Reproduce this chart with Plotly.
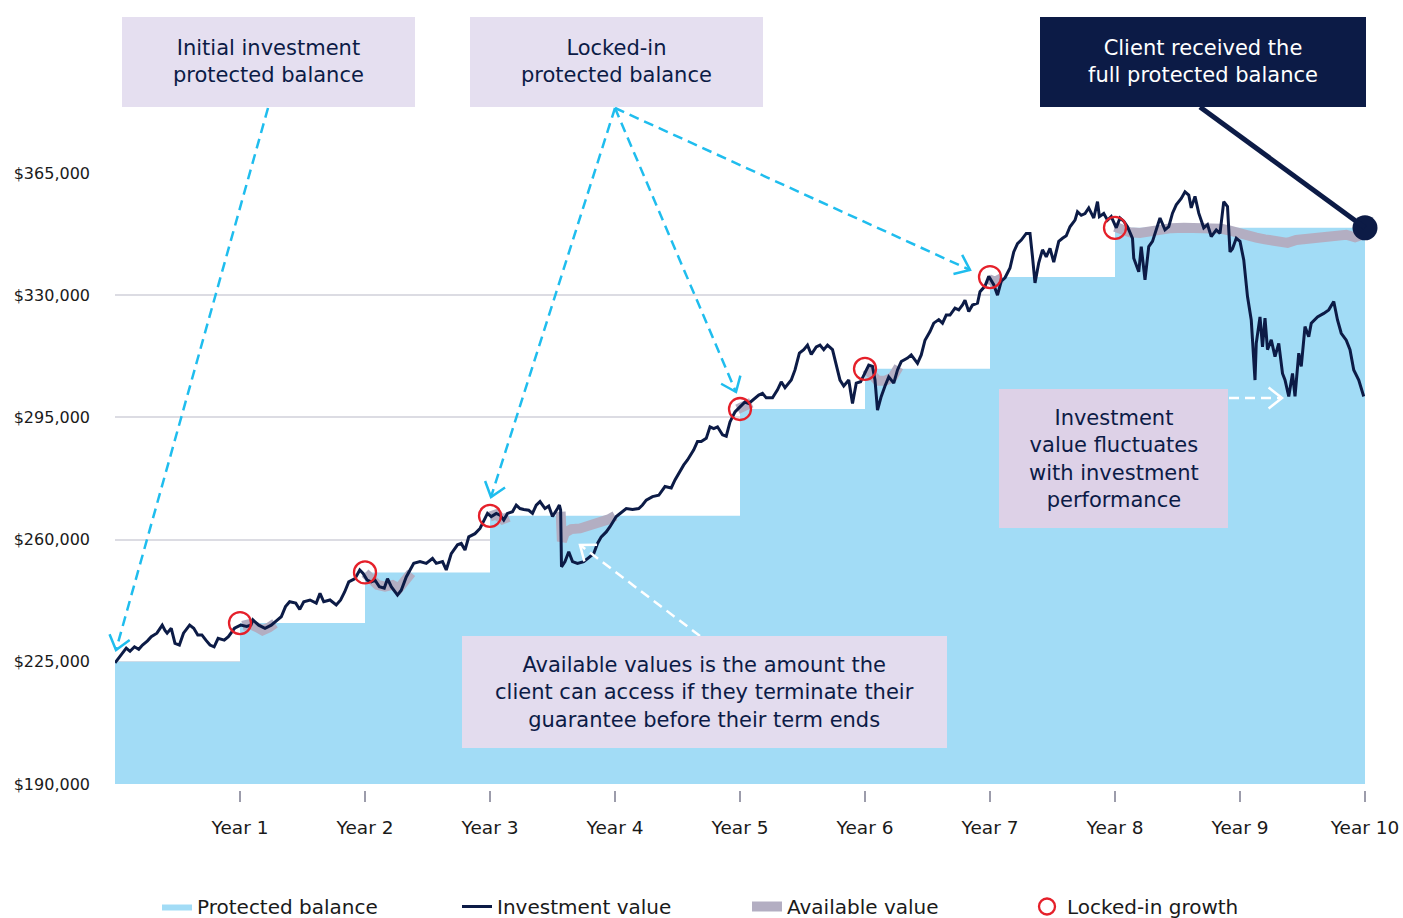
import math
import plotly.graph_objects as go

# ---------------- data (values in $) ----------------
protected_years = [0, 1, 2, 3, 4, 5, 6, 7, 8, 9, 10]
protected_values = [225000, 236100, 250600, 266800, 266800, 297400, 308900, 335200, 349300, 349300, 349300]

locked_years = [1, 2, 3, 5, 6, 7, 8]
locked_values = [236100, 250600, 266800, 297400, 308900, 335200, 349300]

invest_years = [
    0.00, 0.04, 0.09, 0.12, 0.156, 0.19, 0.22, 0.26, 0.29, 0.335, 0.378, 0.40, 0.417, 0.45, 0.48, 0.515,
    0.548, 0.597, 0.63, 0.662, 0.695, 0.727, 0.76, 0.793, 0.825, 0.874, 0.907, 0.956, 1.005, 1.054, 1.087,
    1.103, 1.15, 1.20, 1.25, 1.30, 1.33, 1.364, 1.397, 1.446, 1.478, 1.51, 1.56, 1.61, 1.64, 1.67, 1.72,
    1.77, 1.805, 1.837, 1.87, 1.92, 1.958, 1.985, 2.017, 2.05, 2.08, 2.115, 2.154, 2.18, 2.21, 2.26, 2.29,
    2.33, 2.36, 2.39, 2.44, 2.49, 2.54, 2.57, 2.62, 2.65, 2.69, 2.74, 2.77, 2.80, 2.83, 2.88, 2.92, 2.95,
    2.98, 3.01, 3.05, 3.08, 3.11, 3.14, 3.18, 3.21, 3.24, 3.27, 3.31, 3.34, 3.37, 3.40, 3.44, 3.47, 3.50,
    3.54, 3.555, 3.565, 3.572, 3.60, 3.63, 3.66, 3.70, 3.75, 3.80, 3.83, 3.86, 3.89, 3.93, 3.96, 4.01,
    4.04, 4.09, 4.14, 4.19, 4.22, 4.25, 4.30, 4.35, 4.40, 4.45, 4.48, 4.51, 4.55, 4.58, 4.63, 4.66, 4.69,
    4.73, 4.76, 4.79, 4.82, 4.86, 4.89, 4.92, 4.96, 5.00, 5.04, 5.07, 5.10, 5.15, 5.18, 5.21, 5.26, 5.30,
    5.33, 5.36, 5.41, 5.44, 5.475, 5.51, 5.54, 5.57, 5.61, 5.64, 5.67, 5.70, 5.74, 5.77, 5.80, 5.83, 5.87,
    5.90, 5.93, 5.965, 6.00, 6.03, 6.06, 6.08, 6.10, 6.13, 6.16, 6.19, 6.23, 6.26, 6.29, 6.34, 6.37, 6.42,
    6.45, 6.48, 6.52, 6.55, 6.59, 6.62, 6.65, 6.68, 6.72, 6.75, 6.78, 6.80, 6.83, 6.86, 6.90, 6.92, 6.96,
    6.99, 7.03, 7.06, 7.09, 7.12, 7.16, 7.19, 7.22, 7.25, 7.29, 7.32, 7.34, 7.36, 7.39, 7.42, 7.45, 7.48,
    7.51, 7.55, 7.58, 7.61, 7.64, 7.68, 7.70, 7.73, 7.76, 7.79, 7.83, 7.86, 7.875, 7.91, 7.94, 7.97, 8.01,
    8.04, 8.07, 8.10, 8.14, 8.15, 8.19, 8.21, 8.24, 8.27, 8.30, 8.33, 8.36, 8.40, 8.43, 8.46, 8.49, 8.53,
    8.56, 8.59, 8.61, 8.64, 8.67, 8.71, 8.74, 8.77, 8.81, 8.84, 8.87, 8.90, 8.92, 8.94, 8.97, 9.00, 9.03,
    9.06, 9.09, 9.12, 9.13, 9.16, 9.18, 9.20, 9.22, 9.25, 9.28, 9.31, 9.34, 9.36, 9.39, 9.42, 9.44, 9.47,
    9.49, 9.52, 9.55, 9.57, 9.62, 9.67, 9.71, 9.75, 9.78, 9.81, 9.85, 9.88, 9.91, 9.95, 9.99,
]
invest_values_k = [
    224.7, 226.5, 228.9, 228.0, 229.3, 228.6, 229.8, 231.0, 232.2, 233.2, 235.5, 234.0, 233.2, 234.6, 230.3, 229.8,
    233.2, 235.5, 234.6, 232.7, 232.7, 231.2, 229.8, 229.3, 231.7, 231.2, 232.2, 234.6, 235.5, 235.1, 235.5,
    237.0, 235.5, 234.6, 235.5, 237.0, 237.9, 240.8, 242.2, 241.8, 240.0, 242.2, 242.7, 241.8, 244.6, 242.2, 242.7,
    241.3, 242.7, 245.0, 247.9, 248.8, 251.3, 250.3, 248.4, 247.9, 248.4, 246.5, 246.1, 248.8, 246.5, 244.1, 245.5,
    249.3, 251.3, 253.2, 253.7, 253.2, 254.6, 253.2, 253.7, 251.3, 256.0, 258.5, 258.9, 257.0, 260.8, 261.7, 263.2, 265.6,
    267.5, 266.6, 267.5, 267.0, 265.6, 267.5, 268.0, 269.9, 268.9, 268.6, 268.4, 267.5, 269.9, 270.9, 268.9, 269.6, 266.6,
    268.9, 269.9, 268.5, 252.2, 253.7, 256.5, 253.7, 253.2, 253.7, 255.1, 256.0, 258.9, 260.8, 262.2, 263.7, 266.6,
    267.5, 268.9, 268.6, 268.9, 269.9, 271.3, 272.3, 272.7, 275.2, 274.8, 277.1, 279.0, 281.4, 282.8, 285.7, 288.1, 288.1,
    289.0, 292.3, 291.8, 292.3, 290.0, 289.6, 293.7, 296.6, 298.0, 299.4, 299.0, 300.0, 301.4, 301.9, 300.6, 300.6, 302.9,
    305.2, 303.5, 305.7, 308.6, 313.4, 314.4, 315.7, 313.0, 315.2, 315.7, 314.4, 315.7, 314.4, 309.6, 305.7, 304.0, 305.7,
    299.0, 304.8, 305.2, 307.6, 310.0, 309.6, 305.7, 297.1, 301.0, 304.0, 306.6, 304.8, 308.6, 311.0, 312.0, 312.9, 310.5,
    312.9, 317.1, 319.6, 322.0, 323.0, 322.0, 324.3, 324.3, 326.3, 325.8, 327.2, 328.6, 325.3, 327.2, 327.7, 331.0, 332.6,
    335.4, 333.0, 330.0, 334.0, 335.0, 337.8, 342.4, 344.8, 345.8, 347.7, 347.7, 341.0, 333.5, 339.3, 343.0, 341.0, 343.4,
    339.5, 345.4, 346.3, 347.0, 349.6, 351.5, 353.9, 352.9, 353.4, 355.0, 352.1, 356.8, 352.5, 353.4, 351.5, 352.5, 349.3,
    352.1, 351.2, 349.6, 346.3, 340.6, 336.7, 343.9, 334.4, 343.9, 345.4, 348.7, 352.1, 348.7, 349.6, 353.5, 355.9, 357.7,
    359.6, 358.7, 355.0, 358.3, 353.5, 349.3, 350.2, 346.8, 348.7, 347.7, 356.8, 355.4, 342.4, 343.3, 346.3, 345.4, 340.1,
    329.6, 322.9, 305.7, 316.2, 323.8, 315.2, 323.4, 314.4, 317.2, 312.4, 316.2, 307.6, 305.7, 301.0, 307.6, 301.0, 313.4,
    309.6, 321.0, 318.1, 322.0, 323.8, 324.8, 325.8, 328.2, 322.9, 319.1, 317.1, 314.4, 308.6, 305.7, 301.0,
]

# Available value: shown only after lock-ins (None = gap)
avail_years = [
    1.02, 1.08, 1.13, 1.18, 1.23, 1.28, None,
    2.00, 2.05, 2.10, 2.16, 2.22, 2.27, 2.32, 2.37, None,
    3.00, 3.05, 3.10, 3.15, None,
    3.565, 3.575, 3.60, 3.65, 3.72, 3.80, 3.87, 3.95, 4.00, None,
    4.98, 5.04, 5.09, None,
    6.01, 6.05, 6.10, 6.16, 6.22, 6.27, None,
    6.99, 7.04, 7.09, None,
    8.00, 8.05, 8.12, 8.20, 8.28, 8.36, 8.45, 8.55, 8.65, 8.75, 8.85, 8.92, 9.00, 9.07, 9.13, 9.20, 9.30,
    9.38, 9.45, 9.55, 9.65, 9.75, 9.85, 9.92, 9.98,
]
avail_values_k = [
    235.3, 235.8, 235.0, 234.0, 234.8, 236.0, None,
    250.4, 248.5, 247.0, 246.5, 247.0, 246.0, 248.5, 250.5, None,
    266.6, 267.2, 265.8, 266.5, None,
    268.0, 259.5, 262.0, 263.0, 263.2, 264.0, 264.8, 265.8, 266.8, None,
    297.3, 298.4, 299.2, None,
    309.0, 307.5, 305.5, 305.5, 306.5, 309.5, None,
    334.6, 333.8, 334.8, None,
    349.6, 349.0, 348.0, 347.8, 348.3, 349.0, 349.2, 349.3, 349.3, 349.3, 349.0, 348.5, 348.0, 347.3, 346.5, 346.0, 345.2,
    345.0, 345.8, 346.2, 346.5, 347.0, 347.3, 346.6, 347.3,
]

y_ticks = [190000, 225000, 260000, 295000, 330000, 365000]
x_ticks = [1, 2, 3, 4, 5, 6, 7, 8, 9, 10]
x_tick_labels = ["Year %d" % i for i in x_ticks]

invest_values = [v * 1000 for v in invest_values_k]
avail_values = [None if v is None else v * 1000 for v in avail_values_k]

# ---------------- styling ----------------
FONT = "DejaVu Sans"
NAVY = "#0c1b46"
BLUE_FILL = "#a2dcf6"
GRAY = "#b3aec2"
RED = "#e5202a"
CYAN = "#1fbdee"
LAV = "#e5dff0"
LAV2 = "#ddd1e7"
TXT = "#1a1a1a"

# body margin is removed (post_script below), so layout pixels == screen pixels
OFF = 0
W, H = 1403, 918
L, R, T, B = 115, 38, 173, 128
PW, PH = W - L - R, H - T - B
Y_MIN, Y_MAX = 190000, 365000
Y_DOM0 = 6 / PH


def px(xs):
    return (xs - OFF - L) / PW


def py(ys):
    return (H - B - (ys - OFF)) / PH


def val2paper(v):
    return Y_DOM0 + (v - Y_MIN) / (Y_MAX - Y_MIN) * (1 - Y_DOM0)


fig = go.Figure()

fig.add_trace(go.Scatter(
    x=protected_years, y=protected_values, mode="lines", line=dict(width=0, shape="hv"),
    fill="tozeroy", fillcolor=BLUE_FILL, name="Protected balance", legend="legend",
    hoverinfo="skip",
))
fig.add_trace(go.Scatter(
    x=avail_years, y=avail_values, mode="lines", connectgaps=False,
    line=dict(color=GRAY, width=10), name="Available value", legend="legend3",
))
fig.add_trace(go.Scatter(
    x=invest_years, y=invest_values, mode="lines",
    line=dict(color=NAVY, width=3), name="Investment value", legend="legend2",
))
fig.add_trace(go.Scatter(
    x=locked_years, y=locked_values, mode="markers",
    marker=dict(symbol="circle-open", size=22, color=RED, line=dict(width=2.3, color=RED)),
    name="Locked-in growth", legend="legend4",
))
fig.add_trace(go.Scatter(
    x=[protected_years[-1]], y=[protected_values[-1]], mode="markers",
    marker=dict(size=25, color=NAVY), showlegend=False, cliponaxis=False,
))

shapes = []
annotations = []


def box(x0, y0, x1, y1, fill, lines, color, size):
    shapes.append(dict(type="rect", xref="paper", yref="paper", x0=px(x0), x1=px(x1), y0=py(y1), y1=py(y0),
                       fillcolor=fill, line=dict(width=0), layer="above"))
    annotations.append(dict(xref="paper", yref="paper", x=px((x0 + x1) / 2), y=py((y0 + y1) / 2),
                            text="<br>".join(lines), showarrow=False,
                            font=dict(family=FONT, size=size, color=color),
                            align="center", xanchor="center", yanchor="middle"))


def dashed_arrow(x0, y0, x1, y1, color, width=2.5):
    shapes.append(dict(type="line", xref="paper", yref="paper", x0=px(x0), y0=py(y0), x1=px(x1), y1=py(y1),
                       line=dict(color=color, width=width, dash="10px,6px"), layer="above"))
    dx, dy = x0 - x1, y0 - y1
    n = math.hypot(dx, dy)
    ux, uy = dx / n, dy / n
    ln, ang = 17, math.radians(38)
    pts = []
    for s in (1, -1):
        c, sn = math.cos(s * ang), math.sin(s * ang)
        pts.append((x1 + ln * (ux * c - uy * sn), y1 + ln * (ux * sn + uy * c)))
    path = "M %f,%f L %f,%f L %f,%f" % (px(pts[0][0]), py(pts[0][1]), px(x1), py(y1), px(pts[1][0]), py(pts[1][1]))
    shapes.append(dict(type="path", xref="paper", yref="paper", path=path,
                       line=dict(color=color, width=width), layer="above"))


# callout arrows
dashed_arrow(268, 108, 116, 650, CYAN)
dashed_arrow(615, 108, 491, 497, CYAN)
dashed_arrow(615, 108, 736, 392, CYAN)
dashed_arrow(615, 108, 970, 270, CYAN)
dashed_arrow(700, 636, 580, 545, "#ffffff")
dashed_arrow(1229, 398, 1282, 398, "#ffffff")

# pointer to final protected balance
shapes.append(dict(type="line", xref="paper", yref="paper", x0=px(1200), y0=py(107),
                   x1=1.0, y1=val2paper(protected_values[-1]), line=dict(color=NAVY, width=5), layer="above"))

BOX_FS = 21
box(122, 17, 415, 107, LAV, ["Initial investment", "protected balance"], NAVY, BOX_FS)
box(470, 17, 763, 107, LAV, ["Locked-in", "protected balance"], NAVY, BOX_FS)
box(1040, 17, 1366, 107, NAVY, ["Client received the", "full protected balance"], "#ffffff", BOX_FS)
box(462, 636, 947, 748, "#e3dcee",
    ["Available values is the amount the", "client can access if they terminate their",
     "guarantee before their term ends"], NAVY, BOX_FS)
box(999, 389, 1228, 528, LAV2, ["Investment", "value fluctuates", "with investment", "performance"],
    NAVY, BOX_FS)


def legend_at(xs):
    return dict(orientation="h", x=px(xs - 5), xanchor="left", y=py(887), yanchor="top",
                font=dict(family=FONT, size=20, color=TXT), itemsizing="trace",
                bgcolor="rgba(0,0,0,0)")


fig.update_layout(
    width=W, height=H,
    margin=dict(l=L, r=R, t=T, b=B, autoexpand=False),
    paper_bgcolor="#ffffff", plot_bgcolor="#ffffff",
    font=dict(family=FONT, color=TXT),
    shapes=shapes, annotations=annotations,
    showlegend=True,
    legend=legend_at(162),
    legend2=legend_at(462),
    legend3=legend_at(752),
    legend4=legend_at(1032),
    xaxis=dict(range=[0, 10], tickvals=x_ticks, ticktext=x_tick_labels, showgrid=False, zeroline=False,
               showline=False, ticks="outside", ticklen=11, tickwidth=1.5, tickcolor="#9c9cab",
               anchor="free", position=0, ticklabelstandoff=10, automargin=False,
               tickfont=dict(family=FONT, size=18.5, color=TXT)),
    yaxis=dict(range=[Y_MIN, Y_MAX], domain=[Y_DOM0, 1], tickvals=y_ticks, tickformat="$,.0f",
               showgrid=True, gridcolor="#dcdce3", gridwidth=1.5, zeroline=False, showline=False,
               ticks="", ticklabelstandoff=24, automargin=False,
               tickfont=dict(family=FONT, size=16, color=TXT)),
)

fig.write_html("out.html", config={"displayModeBar": False},
               post_script="document.body.style.margin='0';document.body.style.overflow='hidden';")
